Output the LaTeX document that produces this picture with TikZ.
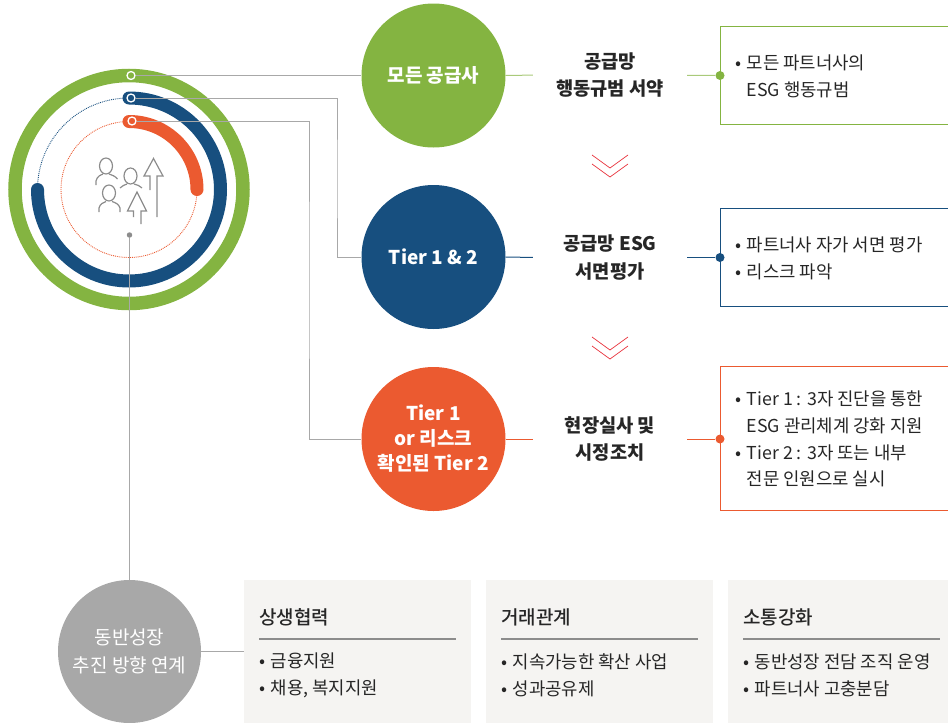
\documentclass[tikz,border=0pt]{standalone}
\usepackage{fontspec}
\setmainfont{Noto Sans CJK KR}
\newfontfamily\medfont{Noto Sans CJK KR Medium}
\usetikzlibrary{positioning}
\definecolor{ringgreen}{HTML}{84B441}
\definecolor{ringblue}{HTML}{174F7F}
\definecolor{ringorange}{HTML}{EB5A30}
\definecolor{wiregray}{HTML}{A8A8A8}
\definecolor{icongray}{HTML}{8C8C8C}
\definecolor{panelgray}{HTML}{F5F4F2}
\definecolor{chevronred}{HTML}{E8323C}
\newcommand{\bl}{\makebox[11.5pt][l]{•}}
\newcommand{\nb}{\hspace*{11.5pt}}
\tikzset{
  bigcircle/.style={circle,fill=#1,minimum size=144pt,inner sep=0pt,text=white,align=center,font=\fontsize{19}{25}\selectfont\bfseries},
  midlabel/.style={minimum width=154pt,inner sep=0pt,align=center,font=\fontsize{18.7}{27.5}\selectfont\bfseries,text=black!85},
  bodytext/.style={anchor=west,inner sep=0pt,align=left,font=\fontsize{17.8}{26.8}\selectfont,text=black!85},
  sidedot/.style={circle,fill=#1,minimum size=9pt,inner sep=0pt},
  ringdot/.style={circle,fill=#1,draw=white,line width=1.3pt,minimum size=8pt,inner sep=0pt},
  wire/.style={wiregray,line width=1pt},
  panel/.style={fill=panelgray},
  paneltitle/.style={anchor=west,inner sep=0pt,font=\fontsize{19}{24}\selectfont\medfont,text=black!85},
  chevron/.style={chevronred,line width=0.7pt},
  iconline/.style={icongray,line width=1.2pt}
}
\begin{document}
\begin{tikzpicture}[x=1pt,y=-1pt]
\clip (0,0) rectangle (948,723);
% bottom panels
\fill[panel] (244,580) rectangle (471,730);
\fill[panel] (486,580) rectangle (713,730);
\fill[panel] (728,580) rectangle (955,730);
% rings
\begin{scope}[shift={(129,189.5)},y=1pt]
\draw[ringgreen,line width=13.5pt] (0,0) circle(114);
\draw[ringblue,line width=0.9pt,densely dotted] (90:91.5) arc(90:180:91.5);
\draw[ringorange,line width=0.9pt,densely dotted] (90:68) arc(90:360:68);
\draw[ringblue,line width=13pt,line cap=round] (90:91.5) arc(90:-180:91.5);
\draw[ringorange,line width=13pt,line cap=round] (90:68) arc(90:0:68);
\end{scope}
% nodes
\node[circle,fill=wiregray,minimum size=143pt,inner sep=0pt,text=white,align=center,font=\fontsize{19}{28}\selectfont] (linkcircle) at (129.5,651.5) {동반성장\\추진 방향 연계};
\node[circle,fill=icongray,minimum size=5.5pt,inner sep=0pt] (centerdot) at (129.5,235) {};
\draw[wire] (centerdot) -- (linkcircle);
% people and arrows
\draw[iconline] (106,166) ellipse(6.5 and 8);
\draw[iconline] (96,185) -- (96,181) .. controls (97,176) and (101,175) .. (103,174);
\draw[iconline] (109,174) .. controls (112,175) and (115,176) .. (117.5,179);
\draw[iconline] (130.5,176) ellipse(6.5 and 8);
\draw[iconline] (120,188) .. controls (122,186) and (125,184.5) .. (127,184);
\draw[iconline] (134,184) .. controls (137,184.5) and (140,186) .. (142,188);
\draw[iconline] (109,193) ellipse(6.5 and 8);
\draw[iconline] (99,212) -- (99,208) .. controls (100,204) and (103,202.5) .. (106,201.5);
\draw[iconline] (112,201.5) .. controls (115,202.5) and (119,204) .. (120,208) -- (120,212);
\draw[iconline] (150,190) -- (150,176) -- (144,176) -- (153.5,158.5) -- (163,176) -- (157,176) -- (157,217);
\draw[iconline] (133.5,217) -- (133.5,211) -- (127.5,211) -- (137,192) -- (146.5,211) -- (141,211) -- (141,224);
% dots on the rings
\node[ringdot=ringgreen] (dotgreen) at (131,75.5) {};
\node[ringdot=ringblue] (dotblue) at (131,98) {};
\node[ringdot=ringorange] (dotorange) at (132,121) {};
% step circles
\node[bigcircle=ringgreen] (green) at (433.5,75.5) {모든 공급사};
\node[bigcircle=ringblue] (blue) at (433.5,257) {Tier 1 \& 2};
\node[bigcircle=ringorange] (orange) at (433.5,439) {Tier 1\\or 리스크\\확인된 Tier 2};
\node[midlabel] (midgreen) at (610,75) {공급망\\행동규범 서약};
\node[midlabel] (midblue) at (610,257.5) {공급망 ESG\\서면평가};
\node[midlabel] (midorange) at (610,439) {현장실사 및\\시정조치};
% side boxes
\draw[ringgreen,line width=1pt] (955,26) -- (720,26) -- (720,124.5) -- (955,124.5);
\draw[ringblue,line width=1pt] (955,208) -- (720,208) -- (720,306) -- (955,306);
\draw[ringorange,line width=1pt] (955,366.5) -- (720,366.5) -- (720,510) -- (955,510);
\node[sidedot=ringgreen] (sidegreen) at (720,75.5) {};
\node[sidedot=ringblue] (sideblue) at (720,257.5) {};
\node[sidedot=ringorange] (sideorange) at (720,439) {};
\node[bodytext] (textgreen) at (735,76) {\bl 모든 파트너사의\\\nb ESG 행동규범};
\node[bodytext] (textblue) at (735,258) {\bl 파트너사 자가 서면 평가\\\bl 리스크 파악};
\node[bodytext] (textorange) at (735,439) {\bl Tier 1 : 3자 진단을 통한\\\nb ESG 관리체계 강화 지원\\\bl Tier 2 : 3자 또는 내부\\\nb 전문 인원으로 실시};
% connectors
\draw[wire] (dotgreen) -- (green);
\coordinate (kneeblue) at (337,180);
\coordinate (kneeorange) at (309,280);
\draw[wire] (dotblue) -| (kneeblue) |- (blue);
\draw[wire] (dotorange) -| (kneeorange) |- (orange);
\draw[ringgreen!70,line width=1pt] (green) -- (midgreen);
\draw[ringgreen!70,line width=1pt] (midgreen) -- (sidegreen);
\draw[ringblue,line width=1pt] (blue) -- (midblue);
\draw[ringblue,line width=1pt] (midblue) -- (sideblue);
\draw[ringorange,line width=1pt] (orange) -- (midorange);
\draw[ringorange,line width=1pt] (midorange) -- (sideorange);
% chevrons
\foreach \y in {155,164,337,346}
  \draw[chevron] (592,\y) -- (610,\y+13) -- (628,\y);
% bottom panel texts
\node[paneltitle] (titleone) at (259,617) {상생협력};
\node[paneltitle] (titletwo) at (501,617) {거래관계};
\node[paneltitle] (titlethree) at (743,617) {소통강화};
\draw[icongray,line width=1.2pt] (259,639) -- (456,639);
\draw[icongray,line width=1.2pt] (501,639) -- (698,639);
\draw[icongray,line width=1.2pt] (743,639) -- (940,639);
\node[bodytext] (listone) at (259,675) {\bl 금융지원\\\bl 채용, 복지지원};
\node[bodytext] (listtwo) at (501,675) {\bl 지속가능한 확산 사업\\\bl 성과공유제};
\node[bodytext] (listthree) at (743,675) {\bl 동반성장 전담 조직 운영\\\bl 파트너사 고충분담};
\coordinate (panelleft) at (244,651.5);
\draw[wire] (linkcircle) -- (panelleft);
\end{tikzpicture}
\end{document}
